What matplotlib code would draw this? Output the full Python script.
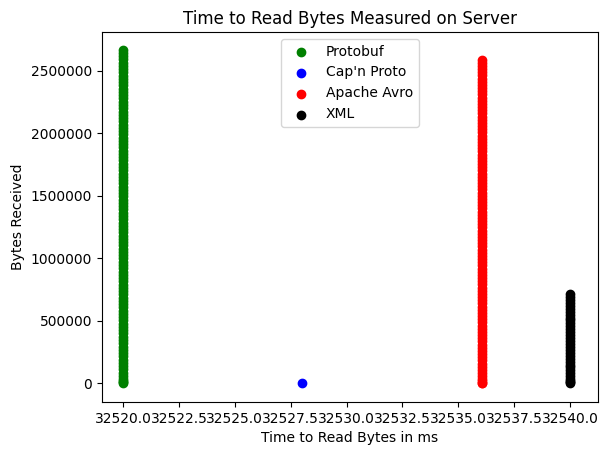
import matplotlib
matplotlib.use('Agg')
import matplotlib.pyplot as plt

# read times (ms) and bytes received per format (bytes in thousands)
proto_x = 32520.0
proto_kb = [2670, 2645, 2618, 2592, 2566, 2540, 2513, 2488, 2461, 2435, 2410, 2383,
            2357, 2331, 2305, 2279, 2252, 2227, 2200, 2174, 2149, 2122, 2096, 2070,
            2044, 2018, 1991, 1966, 1939, 1913, 1888, 1861, 1835, 1809, 1783, 1757,
            1730, 1705, 1678, 1652, 1627, 1600, 1574, 1548, 1522, 1496, 1469, 1444,
            1417, 1391, 1366, 1339, 1313, 1287, 1261, 1235, 1208, 1183, 1156, 1130,
            1105, 1078, 1052, 1026, 1000, 974, 947, 922, 895, 869, 844, 817,
            791, 765, 739, 713, 686, 661, 634, 608, 583, 556, 530, 504,
            478, 452, 425, 400, 373, 347, 322, 295, 269, 243, 217, 191,
            164, 139, 112, 86, 61, 38, 20, 9, 3]

capn_x = 32528.0
capn_kb = [3]

avro_x = 32536.05
avro_kb = [2590, 2565, 2540, 2514, 2489, 2464, 2438, 2413, 2388, 2362, 2337, 2312,
           2286, 2261, 2236, 2210, 2185, 2160, 2134, 2109, 2084, 2058, 2033, 2008,
           1982, 1957, 1932, 1906, 1881, 1856, 1830, 1805, 1780, 1754, 1729, 1704,
           1678, 1653, 1628, 1602, 1577, 1552, 1526, 1501, 1476, 1450, 1425, 1400,
           1374, 1349, 1324, 1298, 1273, 1248, 1222, 1197, 1172, 1146, 1121, 1096,
           1070, 1045, 1020, 994, 969, 944, 918, 893, 868, 842, 817, 792,
           766, 741, 716, 690, 665, 640, 614, 589, 564, 538, 513, 488,
           462, 437, 412, 386, 361, 336, 310, 285, 260, 234, 209, 184,
           158, 133, 108, 82, 57, 34, 17, 7, 2]

xml_x = 32540.0
xml_kb = [715, 692, 668, 645, 621, 598, 574, 551, 527, 504, 480, 457, 433, 410,
          386, 363, 339, 316, 292, 269, 245, 222, 198, 175, 151, 128, 104, 81,
          58, 38, 21, 9, 2]

fig = plt.figure(figsize=(6.1, 4.55), dpi=100)
ax = fig.add_axes([102/610, 53/455, 496/610, 370/455])

ax.scatter([proto_x]*len(proto_kb), [v*1000 for v in proto_kb], color='green', label='Protobuf')
ax.scatter([capn_x]*len(capn_kb), [v*1000 for v in capn_kb], color='blue', label="Cap'n Proto")
ax.scatter([avro_x]*len(avro_kb), [v*1000 for v in avro_kb], color='red', label='Apache Avro')
ax.scatter([xml_x]*len(xml_kb), [v*1000 for v in xml_kb], color='black', label='XML')

ax.ticklabel_format(style='plain', useOffset=False)
ax.set_xticks([32520.0, 32522.5, 32525.0, 32527.5, 32530.0, 32532.5, 32535.0, 32537.5, 32540.0])
ax.set_xlim(32519.06, 32541.25)
ax.set_ylim(-148000, 2810000)
ax.set_title('Time to Read Bytes Measured on Server')
ax.set_xlabel('Time to Read Bytes in ms')
ax.set_ylabel('Bytes Received')
ax.legend(loc='upper center')

fig.savefig('out.png', dpi=100)
